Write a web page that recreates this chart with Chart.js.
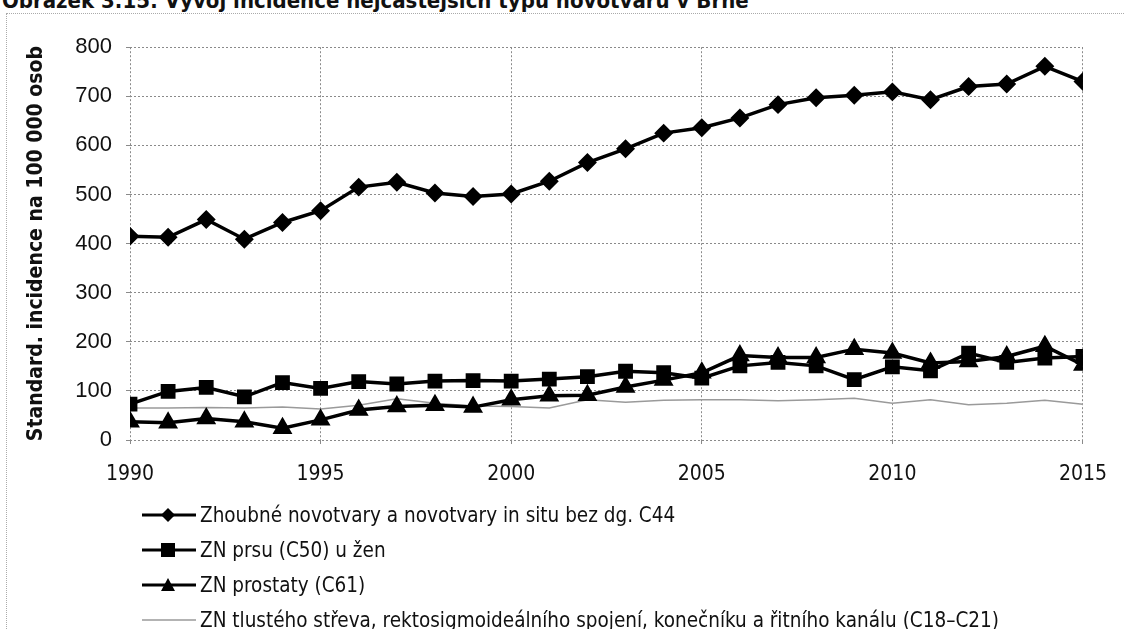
<!DOCTYPE html>
<html>
<head>
<meta charset="utf-8">
<script src="https://cdn.jsdelivr.net/npm/chart.js@4"></script>
<style>
  body { margin: 0; background: #fff; width: 1125px; height: 629px; overflow: hidden; position: relative; font-family: "DejaVu Sans Condensed", "DejaVu Sans", sans-serif; font-stretch: condensed; }
  #title { position: absolute; left: 2px; top: -12px; font: bold 22px "DejaVu Sans Condensed", sans-serif; font-stretch: condensed; color: #111; white-space: nowrap; }
  #frame { position: absolute; left: 6px; top: 13px; width: 1140px; height: 640px; border: 1px dotted #aaa; }
  #wrap { position: absolute; left: 0; top: 20px; width: 1125px; height: 480px; }
  #legend { position: absolute; left: 140px; top: 497px; }
  .item { display: flex; align-items: center; height: 35px; font-size: 20.5px; color: #111; white-space: nowrap; }
  .item svg { margin-right: 2px; }
</style>
</head>
<body>
<div id="title">Obrázek 3.15: Vývoj incidence nejčastějších typů novotvarů v Brně</div>
<div id="frame"></div>
<div id="wrap"><canvas id="graf"></canvas></div>
<div id="legend"></div>
<script>
// roky
const roky = [1990, 1991, 1992, 1993, 1994, 1995, 1996, 1997, 1998, 1999, 2000, 2001, 2002,
              2003, 2004, 2005, 2006, 2007, 2008, 2009, 2010, 2011, 2012, 2013, 2014, 2015];

// Zhoubne novotvary celkem (bez C44)
const zhoubne = [415, 413, 449, 409, 443, 467, 515, 525, 503, 496, 501, 527, 565,
                 593, 625, 636, 656, 683, 697, 702, 709, 693, 720, 725, 761, 730];
// ZN prsu u zen
const prsu = [73, 99, 107, 88, 117, 105, 119, 114, 120, 121, 120, 124, 129,
              140, 137, 126, 151, 158, 151, 123, 149, 141, 177, 158, 167, 170];
// ZN prostaty
const prostaty = [37, 35, 44, 37, 24, 41, 61, 68, 71, 67, 82, 90, 91,
                  108, 122, 137, 172, 168, 168, 185, 177, 157, 160, 170, 191, 153];
// ZN tlusteho streva ... (C18-C21)
const streva = [65, 65, 66, 65, 67, 63, 71, 84, 75, 69, 68, 65, 82,
                77, 81, 82, 82, 80, 82, 85, 75, 82, 72, 75, 81, 73];

const yTicks = [0, 100, 200, 300, 400, 500, 600, 700, 800];

const nazvy = [
    "Zhoubné novotvary a novotvary in situ bez dg. C44",
    "ZN prsu (C50) u žen",
    "ZN prostaty (C61)",
    "ZN tlustého střeva, rektosigmoideálního spojení, konečníku a řitního kanálu (C18–C21)"
];

const body = arr => arr.map((v, i) => ({ x: roky[i], y: v }));

const ds = [
    { label: nazvy[0], data: body(zhoubne), borderColor: '#000', backgroundColor: '#000',
      borderWidth: 3.5, pointStyle: 'rectRot', pointRadius: 7, znak: 'diamond' },
    { label: nazvy[1], data: body(prsu), borderColor: '#000', backgroundColor: '#000',
      borderWidth: 3.5, pointStyle: 'rect', pointRadius: 8, znak: 'square' },
    { label: nazvy[2], data: body(prostaty), borderColor: '#000', backgroundColor: '#000',
      borderWidth: 3.5, pointStyle: 'triangle', pointRadius: 8, znak: 'triangle' },
    { label: nazvy[3], data: body(streva), borderColor: '#9a9a9a', backgroundColor: '#9a9a9a',
      borderWidth: 1.5, pointRadius: 0, znak: 'none' }
];

const uzke = '"DejaVu Sans Condensed", "DejaVu Sans", sans-serif';

new Chart(document.getElementById("graf"), {
    type: 'line',
    data: { datasets: ds },
    options: {
        responsive: true,
        maintainAspectRatio: false,
        animation: false,
        layout: { padding: { left: 20, right: 33, top: 25, bottom: 0 } },
        scales: {
            x: {
                type: 'linear',
                min: 1990, max: 2015,
                afterFit: s => { s.height = 60; },
                ticks: {
                    stepSize: 5,
                    callback: v => String(v),
                    color: '#111',
                    padding: 18,
                    font: { family: uzke, size: 21 }
                },
                grid: { color: '#8a8a8a', drawTicks: true, tickLength: 4 },
                border: { display: false, dash: [2, 2] }
            },
            y: {
                min: 0, max: 800,
                afterFit: s => { s.width = 110; },
                afterBuildTicks: s => { s.ticks = yTicks.map(v => ({ value: v })); },
                title: {
                    display: true,
                    text: 'Standard. incidence na 100 000 osob',
                    color: '#111',
                    font: { family: uzke, size: 21, weight: 'bold' }
                },
                ticks: {
                    color: '#111',
                    padding: 14,
                    font: { family: '"Liberation Sans", Arial, sans-serif', size: 22 }
                },
                grid: { color: '#8a8a8a', drawTicks: true, tickLength: 4 },
                border: { display: false, dash: [2, 2] }
            }
        },
        plugins: {
            legend: { display: false },
            tooltip: { enabled: false }
        }
    }
});

// legenda pod grafem
const leg = document.getElementById("legend");
ds.forEach(d => {
    let m = '';
    if (d.znak === 'diamond') m = '<polygon points="28,4 35,11 28,18 21,11" fill="#000"/>';
    if (d.znak === 'square') m = '<rect x="21" y="4" width="14" height="14" fill="#000"/>';
    if (d.znak === 'triangle') m = '<polygon points="28,4 35,17 21,17" fill="#000"/>';
    const sw = d.znak === 'none' ? 1.5 : 3;
    leg.innerHTML += '<div class="item"><svg width="58" height="22"><line x1="2" y1="11" x2="56" y2="11" stroke="' +
        d.borderColor + '" stroke-width="' + sw + '"/>' + m + '</svg><span>' + d.label + '</span></div>';
});
</script>
</body>
</html>
